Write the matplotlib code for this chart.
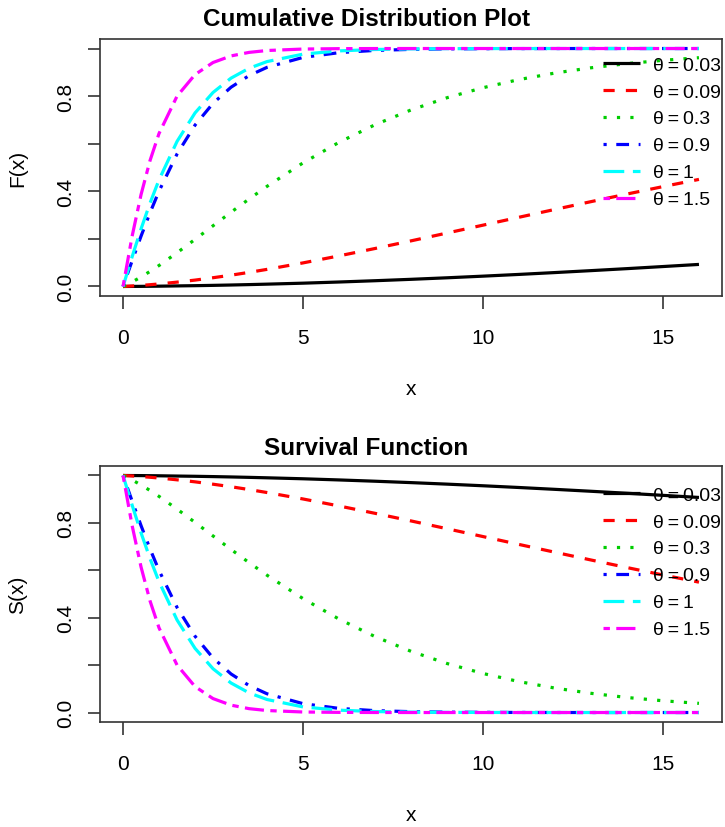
import matplotlib
matplotlib.use("Agg")
import matplotlib.pyplot as plt

plt.rcParams['font.family'] = ['Liberation Sans', 'DejaVu Sans']

# evaluation grid
x = [0, 0.25, 0.5, 0.75, 1, 1.5, 2, 2.5, 3, 3.5, 4, 5, 6, 7, 8, 9, 10, 11, 12, 13, 14, 15, 16]

thetas = ["0.03", "0.09", "0.3", "0.9", "1", "1.5"]

# cumulative distribution F(x) per theta
cdf_003 = [0, 0.0003, 0.0005, 0.0009, 0.0013, 0.0024, 0.0034, 0.0047, 0.0062, 0.0079, 0.0098, 0.0139,
           0.0188, 0.0242, 0.0301, 0.0365, 0.0434, 0.0507, 0.0585, 0.0666, 0.0750, 0.0838, 0.0927]
cdf_009 = [0, 0.0021, 0.0045, 0.0075, 0.0106, 0.0183, 0.0268, 0.0368, 0.0475, 0.0593, 0.0719, 0.0991,
           0.1286, 0.1596, 0.1917, 0.2246, 0.2577, 0.2909, 0.3239, 0.3565, 0.3885, 0.4197, 0.4500]
cdf_03 = [0, 0.0187, 0.0400, 0.0633, 0.0882, 0.1417, 0.1979, 0.2551, 0.3120, 0.3674, 0.4208, 0.5194,
          0.6058, 0.6797, 0.7418, 0.7932, 0.8353, 0.8695, 0.8970, 0.9190, 0.9366, 0.9504, 0.9614]
cdf_09 = [0, 0.1069, 0.2114, 0.3100, 0.4008, 0.5566, 0.6781, 0.7698, 0.8373, 0.8861, 0.9209, 0.9626,
          0.9826, 0.9921, 0.9964, 0.9984, 0.9993, 0.9997, 0.9999, 1.0, 1.0, 1.0, 1.0]
cdf_1 = [0, 0.1238, 0.2418, 0.3505, 0.4482, 0.6095, 0.7293, 0.8153, 0.8755, 0.9170, 0.9451, 0.9764,
         0.9901, 0.9959, 0.9983, 0.9993, 0.9997, 0.9999, 1.0, 1.0, 1.0, 1.0, 1.0]
cdf_15 = [0, 0.2096, 0.3859, 0.5293, 0.6430, 0.7997, 0.8905, 0.9412, 0.9689, 0.9837, 0.9916, 0.9978,
          0.9994, 0.9999, 1.0, 1.0, 1.0, 1.0, 1.0, 1.0, 1.0, 1.0, 1.0]

# survival function S(x) per theta
surv_003 = [1, 0.9997, 0.9995, 0.9991, 0.9987, 0.9976, 0.9966, 0.9953, 0.9938, 0.9921, 0.9902, 0.9861,
            0.9812, 0.9758, 0.9699, 0.9635, 0.9566, 0.9493, 0.9415, 0.9334, 0.9250, 0.9162, 0.9073]
surv_009 = [1, 0.9979, 0.9955, 0.9925, 0.9894, 0.9817, 0.9732, 0.9632, 0.9525, 0.9407, 0.9281, 0.9009,
            0.8714, 0.8404, 0.8083, 0.7754, 0.7423, 0.7091, 0.6761, 0.6435, 0.6115, 0.5803, 0.5500]
surv_03 = [1, 0.9813, 0.9600, 0.9367, 0.9118, 0.8583, 0.8021, 0.7449, 0.6880, 0.6326, 0.5792, 0.4806,
           0.3942, 0.3203, 0.2582, 0.2068, 0.1647, 0.1305, 0.1030, 0.0810, 0.0634, 0.0496, 0.0386]
surv_09 = [1, 0.8931, 0.7886, 0.6900, 0.5992, 0.4434, 0.3219, 0.2302, 0.1627, 0.1139, 0.0791, 0.0374,
           0.0174, 0.0079, 0.0036, 0.0016, 0.0007, 0.0003, 0.0001, 0, 0, 0, 0]
surv_1 = [1, 0.8762, 0.7582, 0.6495, 0.5518, 0.3905, 0.2707, 0.1847, 0.1245, 0.0830, 0.0549, 0.0236,
          0.0099, 0.0041, 0.0017, 0.0007, 0.0003, 0.0001, 0, 0, 0, 0, 0]
surv_15 = [1, 0.7904, 0.6141, 0.4707, 0.3570, 0.2003, 0.1095, 0.0588, 0.0311, 0.0163, 0.0084, 0.0022,
           0.0006, 0.0001, 0, 0, 0, 0, 0, 0, 0, 0, 0]

x_ticks = [0, 5, 10, 15]
y_ticks = [0.0, 0.2, 0.4, 0.6, 0.8, 1.0]
y_ticklabels = ["0.0", "", "0.4", "", "0.8", ""]

colors = ["black", "#ff0000", "#00cd00", "#0000ff", "#00ffff", "#ff00ff"]
dashes = [None, (3.5, 3.5), (1, 3.2), (1, 3, 4, 3), (6.5, 2.7), (2, 2, 6, 2)]

W, H = 725, 828
fig = plt.figure(figsize=(W / 100, H / 100), dpi=100)


def panel(top_px, bottom_px, series, title, ylabel, title_y, leg_y):
    ax = fig.add_axes([100 / W, 1 - bottom_px / H, 622 / W, (bottom_px - top_px) / H])
    for ys, c, d, t in zip(series, colors, dashes, thetas):
        line, = ax.plot(x, ys, color=c, lw=2.3, label=f"θ\u2009=\u2009{t}",
                        solid_capstyle="butt", dash_capstyle="butt")
        if d is not None:
            line.set_dashes(d)
    ax.set_xlim(-0.64, 16.64)
    ax.set_ylim(-0.04, 1.04)
    ax.set_xticks(x_ticks)
    ax.set_xticklabels([str(v) for v in x_ticks], fontsize=15)
    ax.set_yticks(y_ticks)
    ax.set_yticklabels(y_ticklabels, fontsize=15, rotation=90, va="center")
    ax.tick_params(axis="both", direction="out", length=9, width=1.2, color="#333333")
    ax.tick_params(axis="x", pad=14)
    ax.tick_params(axis="y", pad=9)
    for s in ax.spines.values():
        s.set_color("#333333")
        s.set_linewidth(1.2)
    ax.set_xlabel("x", fontsize=15, labelpad=23)
    ax.set_ylabel(ylabel, fontsize=15, labelpad=21)
    fig.text(366 / W, 1 - title_y / H, title, ha="center", va="center",
             fontsize=17.5, fontweight="bold")
    ax.legend(loc="upper left", bbox_to_anchor=(603 / W, 1 - leg_y / H),
              bbox_transform=fig.transFigure, frameon=False, fontsize=14,
              handlelength=1.9, handletextpad=0.65, labelspacing=0.48,
              borderpad=0, borderaxespad=0)
    return ax


panel(40, 297, [cdf_003, cdf_009, cdf_03, cdf_09, cdf_1, cdf_15],
      "Cumulative Distribution Plot", "F(x)", 19, 57)
panel(467, 723, [surv_003, surv_009, surv_03, surv_09, surv_1, surv_15],
      "Survival Function", "S(x)", 449, 487)

fig.savefig("out.png", dpi=100)
